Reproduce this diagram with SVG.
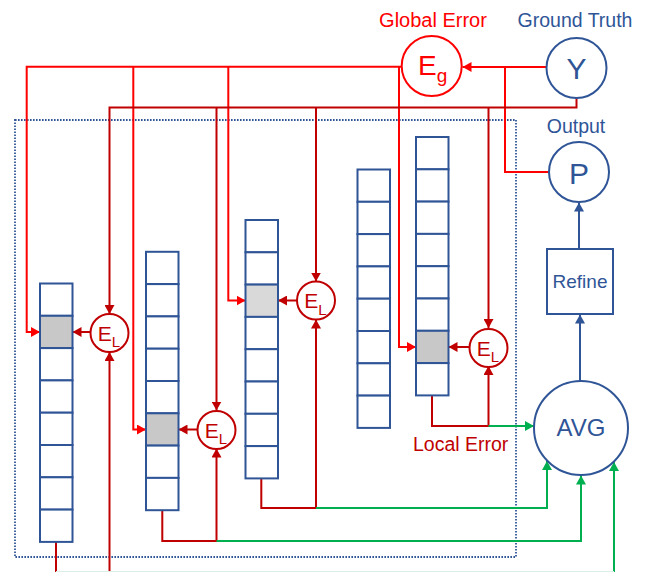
<svg xmlns="http://www.w3.org/2000/svg" width="646" height="572" viewBox="0 0 646 572">
<style>
  text { font-family: "Liberation Sans", Arial, sans-serif; }
  .cell { fill: #ffffff; stroke: #2f5597; stroke-width: 2; }
  .g1 { fill: #c8c8c8; }
  .g2 { fill: #d9d9d9; }
  .br { fill: none; stroke: #ff0000; stroke-width: 2; }
  .dr { fill: none; stroke: #c00000; stroke-width: 2; }
  .gr { fill: none; stroke: #00b050; stroke-width: 2; }
  .bl { fill: none; stroke: #2f5597; stroke-width: 2; }
  .blt { fill: #2f5597; }
  .brt { fill: #ff0000; }
  .drt { fill: #c00000; }
  .elc { fill: #ffffff; stroke: #c00000; stroke-width: 2; }
</style>
<defs>
  <marker id="aBr" viewBox="0 0 9 10" markerWidth="9" markerHeight="10" refX="9" refY="5" orient="auto" markerUnits="userSpaceOnUse"><path d="M0,0 L9,5 L0,10 z" fill="#ff0000"/></marker>
  <marker id="aDr" viewBox="0 0 9 10" markerWidth="9" markerHeight="10" refX="9" refY="5" orient="auto" markerUnits="userSpaceOnUse"><path d="M0,0 L9,5 L0,10 z" fill="#c00000"/></marker>
  <marker id="aGr" viewBox="0 0 9 10" markerWidth="9" markerHeight="10" refX="9" refY="5" orient="auto" markerUnits="userSpaceOnUse"><path d="M0,0 L9,5 L0,10 z" fill="#00b050"/></marker>
  <marker id="aBl" viewBox="0 0 9 10" markerWidth="9" markerHeight="10" refX="9" refY="5" orient="auto" markerUnits="userSpaceOnUse"><path d="M0,0 L9,5 L0,10 z" fill="#2f5597"/></marker>
</defs>
<rect width="646" height="572" fill="#ffffff"/>

<!-- dotted boundary -->
<rect id="boundary" x="15" y="120" width="501" height="437" fill="none" stroke="#2f5597" stroke-width="1.8" stroke-dasharray="1.6 1.4"/>

<g id="connectors">
  <!-- global error broadcast (bright red) -->
  <path class="br" d="M401.7,66.7 H26.7 V332 H40" marker-end="url(#aBr)"/>
  <path class="br" d="M133.3,66.7 V429.5 H146" marker-end="url(#aBr)"/>
  <path class="br" d="M228.3,66.7 V300.5 H245.5" marker-end="url(#aBr)"/>
  <path class="br" d="M399,66.7 V347 H416" marker-end="url(#aBr)"/>
  <path class="br" d="M546,67 H462.5" marker-end="url(#aBr)"/>
  <path class="br" d="M549,172 H505 V67"/>
  <!-- ground truth to local errors (dark red) -->
  <path class="dr" d="M576.5,98 V107.5 H109.5 V314" marker-end="url(#aDr)"/>
  <path class="dr" d="M216.5,107.5 V410.5" marker-end="url(#aDr)"/>
  <path class="dr" d="M316,107.5 V281.5" marker-end="url(#aDr)"/>
  <path class="dr" d="M488.5,107.5 V328" marker-end="url(#aDr)"/>
  <!-- local error to cells -->
  <path class="dr" d="M90.5,332 H72.5" marker-end="url(#aDr)"/>
  <path class="dr" d="M197.5,429.5 H178.5" marker-end="url(#aDr)"/>
  <path class="dr" d="M297,300.5 H278" marker-end="url(#aDr)"/>
  <path class="dr" d="M469.5,347 H448.5" marker-end="url(#aDr)"/>
  <!-- column outputs to local errors -->
  <path class="dr" d="M162.3,510.2 V541 H216.5 V448.5" marker-end="url(#aDr)"/>
  <path class="dr" d="M261.3,478.4 V508 H316 V319.5" marker-end="url(#aDr)"/>
  <path class="dr" d="M432,395.4 V426 H488.5 V366" marker-end="url(#aDr)"/>
  <path class="dr" d="M56,542 V572"/>
  <path class="dr" d="M109.5,572 V352" marker-end="url(#aDr)"/>
  <!-- to AVG (green) -->
  <path class="gr" d="M216.5,541 H581 V475.5" marker-end="url(#aGr)"/>
  <path class="gr" d="M316,508 H547 V461" marker-end="url(#aGr)"/>
  <path class="gr" d="M488.5,426 H534" marker-end="url(#aGr)"/>
  <path class="gr" d="M614,572 V462" marker-end="url(#aGr)"/>
  <path d="M56,571.5 H614" fill="none" stroke="#dcefe6" stroke-width="1"/>
  <!-- blue flow -->
  <path class="bl" d="M580,381 V314.5" marker-end="url(#aBl)"/>
  <path class="bl" d="M579,249 V202.5" marker-end="url(#aBl)"/>
</g>

<g id="col1">
  <rect class="cell" x="40" y="283.5" width="32.5" height="32.3"/>
  <rect class="cell g1" x="40" y="315.8" width="32.5" height="32.3"/>
  <rect class="cell" x="40" y="348.1" width="32.5" height="32.3"/>
  <rect class="cell" x="40" y="380.4" width="32.5" height="32.3"/>
  <rect class="cell" x="40" y="412.7" width="32.5" height="32.3"/>
  <rect class="cell" x="40" y="445" width="32.5" height="32.3"/>
  <rect class="cell" x="40" y="477.3" width="32.5" height="32.3"/>
  <rect class="cell" x="40" y="509.6" width="32.5" height="32.3"/>
</g>
<g id="col2">
  <rect class="cell" x="146" y="251.8" width="32.5" height="32.3"/>
  <rect class="cell" x="146" y="284.1" width="32.5" height="32.3"/>
  <rect class="cell" x="146" y="316.4" width="32.5" height="32.3"/>
  <rect class="cell" x="146" y="348.7" width="32.5" height="32.3"/>
  <rect class="cell" x="146" y="381" width="32.5" height="32.3"/>
  <rect class="cell g1" x="146" y="413.3" width="32.5" height="32.3"/>
  <rect class="cell" x="146" y="445.6" width="32.5" height="32.3"/>
  <rect class="cell" x="146" y="477.9" width="32.5" height="32.3"/>
</g>
<g id="col3">
  <rect class="cell" x="245.5" y="220" width="32.5" height="32.3"/>
  <rect class="cell" x="245.5" y="252.3" width="32.5" height="32.3"/>
  <rect class="cell g2" x="245.5" y="284.6" width="32.5" height="32.3"/>
  <rect class="cell" x="245.5" y="316.9" width="32.5" height="32.3"/>
  <rect class="cell" x="245.5" y="349.2" width="32.5" height="32.3"/>
  <rect class="cell" x="245.5" y="381.5" width="32.5" height="32.3"/>
  <rect class="cell" x="245.5" y="413.8" width="32.5" height="32.3"/>
  <rect class="cell" x="245.5" y="446.1" width="32.5" height="32.3"/>
</g>
<g id="col4">
  <rect class="cell" x="357.5" y="169.5" width="32.5" height="32.3"/>
  <rect class="cell" x="357.5" y="201.8" width="32.5" height="32.3"/>
  <rect class="cell" x="357.5" y="234.1" width="32.5" height="32.3"/>
  <rect class="cell" x="357.5" y="266.4" width="32.5" height="32.3"/>
  <rect class="cell" x="357.5" y="298.7" width="32.5" height="32.3"/>
  <rect class="cell" x="357.5" y="331" width="32.5" height="32.3"/>
  <rect class="cell" x="357.5" y="363.3" width="32.5" height="32.3"/>
  <rect class="cell" x="357.5" y="395.6" width="32.5" height="32.3"/>
</g>
<g id="col5">
  <rect class="cell" x="416" y="137" width="32.5" height="32.3"/>
  <rect class="cell" x="416" y="169.3" width="32.5" height="32.3"/>
  <rect class="cell" x="416" y="201.6" width="32.5" height="32.3"/>
  <rect class="cell" x="416" y="233.9" width="32.5" height="32.3"/>
  <rect class="cell" x="416" y="266.2" width="32.5" height="32.3"/>
  <rect class="cell" x="416" y="298.5" width="32.5" height="32.3"/>
  <rect class="cell g1" x="416" y="330.8" width="32.5" height="32.3"/>
  <rect class="cell" x="416" y="363.1" width="32.5" height="32.3"/>
</g>

<g id="el1">
  <circle class="elc" cx="109.5" cy="333" r="19"/>
  <text x="97.8" y="340.5" font-size="21" class="drt">E<tspan font-size="15" dy="6.5">L</tspan></text>
</g>
<g id="el2">
  <circle class="elc" cx="316" cy="300.5" r="19"/>
  <text x="304.3" y="308" font-size="21" class="drt">E<tspan font-size="15" dy="6.5">L</tspan></text>
</g>
<g id="el3">
  <circle class="elc" cx="216.5" cy="430" r="19"/>
  <text x="204.8" y="437.5" font-size="21" class="drt">E<tspan font-size="15" dy="6.5">L</tspan></text>
</g>
<g id="el4">
  <circle class="elc" cx="488.5" cy="348" r="19"/>
  <text x="476.8" y="355.5" font-size="21" class="drt">E<tspan font-size="15" dy="6.5">L</tspan></text>
</g>

<g id="eg">
  <circle cx="431.7" cy="66" r="30" fill="#ffffff" stroke="#ff0000" stroke-width="2"/>
  <text x="418" y="75" font-size="28" class="brt">E<tspan font-size="19" dy="7">g</tspan></text>
  <text x="433" y="27" font-size="20" text-anchor="middle" class="brt">Global Error</text>
</g>
<g id="y">
  <circle cx="576.5" cy="68" r="30" fill="#ffffff" stroke="#2f5597" stroke-width="2"/>
  <text x="576.5" y="78.5" font-size="30" text-anchor="middle" class="blt">Y</text>
  <text x="575" y="27" font-size="19.5" text-anchor="middle" class="blt">Ground Truth</text>
</g>
<g id="p">
  <circle cx="579" cy="172" r="30" fill="#ffffff" stroke="#2f5597" stroke-width="2"/>
  <text x="579" y="184" font-size="30" text-anchor="middle" class="blt">P</text>
  <text x="576" y="133" font-size="19.5" text-anchor="middle" class="blt">Output</text>
</g>
<g id="refine">
  <rect x="547" y="249" width="66" height="65" fill="#ffffff" stroke="#2f5597" stroke-width="2"/>
  <text x="580" y="288" font-size="19" text-anchor="middle" class="blt">Refine</text>
</g>
<g id="avg">
  <circle cx="581" cy="428" r="47" fill="#ffffff" stroke="#2f5597" stroke-width="2"/>
  <text x="581" y="436" font-size="24" text-anchor="middle" class="blt">AVG</text>
</g>
<g id="local-error-label">
  <text x="413" y="451" font-size="19.5" class="drt">Local Error</text>
</g>
</svg>
